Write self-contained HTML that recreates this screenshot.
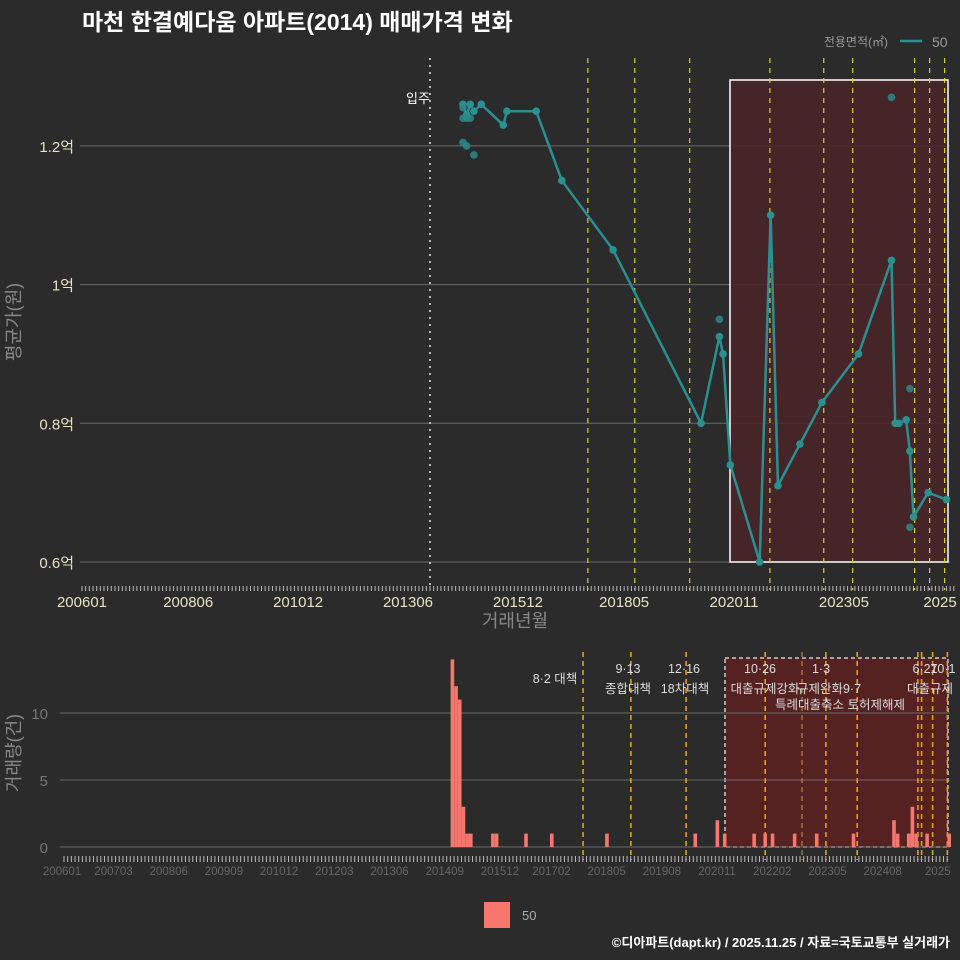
<!DOCTYPE html>
<html><head><meta charset="utf-8">
<style>
html,body{margin:0;padding:0;background:#2b2b2b;}
svg{display:block;font-family:"Liberation Sans","Noto Sans CJK KR",sans-serif;}
</style></head>
<body>
<svg id="c" width="960" height="960" viewBox="0 0 960 960">
<rect x="0" y="0" width="960" height="960" fill="#2b2b2b"/>
<text x="82" y="30" fill="#ffffff" font-size="23" font-weight="bold">마천 한결예다움 아파트(2014) 매매가격 변화</text>
<text x="888" y="46" fill="#9a9a9a" font-size="12" text-anchor="end">전용면적(㎡)</text>
<line x1="900" y1="41" x2="922" y2="41" stroke="#2a9090" stroke-width="2.5"/>
<text x="932" y="47" fill="#9a9a9a" font-size="14">50</text>
<text transform="translate(20,322) rotate(-90)" fill="#888" font-size="18" text-anchor="middle">평균가(원)</text>
<text x="515" y="627" fill="#888" font-size="18" text-anchor="middle">거래년월</text>
<text transform="translate(20,753) rotate(-90)" fill="#888" font-size="18" text-anchor="middle">거래량(건)</text>
<rect x="484" y="902" width="26" height="26" fill="#f8766d"/>
<text x="522" y="920" fill="#aaa" font-size="13">50</text>
<text x="950" y="947" fill="#ffffff" font-size="13" font-weight="bold" text-anchor="end">©디아파트(dapt.kr) / 2025.11.25 / 자료=국토교통부 실거래가</text>
<g id="g"></g>
</svg>
<script>
// ---- data (month index: 0 = 200601) ----
const lineMonths = [104,105,106,107,109,115,116,124,131,145,169,174,175,177,185,188,190,196,202,212,221,222,223,225,226,227,231,236];
const lineValues = [1.26,1.245,1.26,1.25,1.26,1.23,1.25,1.25,1.15,1.05,0.80,0.925,0.90,0.74,0.60,1.10,0.71,0.77,0.83,0.90,1.035,0.80,0.80,0.805,0.76,0.665,0.70,0.69];
const extraMonths = [104,104,105,105,107,221,226,226,174,104,106];
const extraValues = [1.205,1.24,1.20,1.24,1.187,1.27,0.85,0.65,0.95,1.255,1.24];
const barMonths = [105,106,107,108,109,110,116,117,125,132,147,171,177,179,187,190,192,198,204,214,225,226,229,230,231,234,240];
const barValues = [14,12,11,3,1,1,1,1,1,1,1,1,2,1,1,1,1,1,1,1,2,1,1,3,1,1,1];
const priceTicks = [0.6,0.8,1.0,1.2];
const priceTickLabels = ["0.6억","0.8억","1억","1.2억"];
const volTicks = [0,5,10];
const topXLabels = ["200601","200806","201012","201306","201512","201805","202011","202305","202511"];
const topXMonths = [0,29,59,89,119,148,178,208,238];
const botXLabels = ["200601","200703","200806","200909","201012","201203","201306","201409","201512","201702","201805","201908","202011","202202","202305","202408","202511"];
const botXMonths = [0,14,29,44,59,74,89,104,119,133,148,163,178,193,208,223,238];
const topVLines = [138.1,150.9,165.9,187.8,202.5,210.4,227.3,231.4,235.5];
const botVLines = [140.5,153.5,168.5,190,200,206.5,215,231.5,232.5,235.5,239.5];
const moveInMonth = 95;
const notes = [["8·2 대책",555,683],["9·13",628,673],["종합대책",628,693],["12·16",684,673],["18차대책",685,693],["10·26",760,673],["대출규제강화",765,693],["1·3",821,673],["규제완화",820,693],["9·7",852,693],["특례대출축소 토허제해제",840,709],["6·27",925,673],["10·1",943,673],["대출규제",930,693]];

const NS="http://www.w3.org/2000/svg";
const g=document.getElementById('g');
function el(t,a,p){const e=document.createElementNS(NS,t);for(const k in a)e.setAttribute(k,a[k]);(p||g).appendChild(e);return e;}
const X=m=>82+m*3.663;
const Y=v=>562-(v-0.6)/0.2*138.7;
const BX=m=>66+m*3.68;
const BY=v=>847-v*13.4;

priceTicks.forEach((v,i)=>{
 const l=el('line',{x1:80,x2:950,y1:Y(v),y2:Y(v),stroke:'#6a6a6a','stroke-width':1});
 
 
 const t=el('text',{x:74,y:Y(v)+6,fill:'#e8e2c4','font-size':15,'text-anchor':'end'});
 t.textContent=priceTickLabels[i];
 
 
});
const bx=el('rect',{x:730,y:80,width:218,height:482,fill:'#4a2428','fill-opacity':0.85,stroke:'#ffffff','stroke-width':1.5});


const mv=el('line',{x1:X(moveInMonth),x2:X(moveInMonth),y1:58,y2:590,stroke:'#bbbbbb','stroke-width':2,'stroke-dasharray':'2,5'});


const mt=el('text',{x:X(moveInMonth)-12,y:103,fill:'#ffffff','font-size':13,'text-anchor':'middle'});
mt.textContent='입주';


topVLines.forEach(m=>{
 const l=el('line',{x1:X(m),x2:X(m),y1:58,y2:590,stroke:'#d4d430','stroke-width':1.2,'stroke-dasharray':'5,5'});
 
 
});
for(let m=0;m<=238;m++){
 const l=el('line',{x1:X(m),x2:X(m),y1:586,y2:591,stroke:'#bbb','stroke-width':1});
 
 
}
topXLabels.forEach((s,i)=>{
 const t=el('text',{x:Math.min(X(topXMonths[i]),940),y:607,fill:'#e8e2c4','font-size':15,'text-anchor':'middle'});
 t.textContent=i==topXLabels.length-1?'2025':s;
 
 
});
const pts=lineMonths.map((m,i)=>X(m)+','+Y(lineValues[i])).join(' ');
const pl=el('polyline',{points:pts,fill:'none',stroke:'#2a9090','stroke-width':2.5});


lineMonths.forEach((m,i)=>{
 const c=el('circle',{cx:X(m),cy:Y(lineValues[i]),r:3.8,fill:'#2a9090'});
 
 
});
extraMonths.forEach((m,i)=>{
 const c=el('circle',{cx:X(m),cy:Y(extraValues[i]),r:3.8,fill:'#2a8a88','fill-opacity':0.85});
 
 
});

const bb=el('rect',{x:725,y:658,width:223,height:189,fill:'#5a2020','fill-opacity':0.9,stroke:'#cccccc','stroke-width':1.5,'stroke-dasharray':'4,3'});


volTicks.forEach(v=>{
 const l=el('line',{x1:60,x2:950,y1:BY(v),y2:BY(v),stroke:'#6a6a6a','stroke-width':1});
 
 
 const t=el('text',{x:48,y:BY(v)+6,fill:'#777','font-size':15,'text-anchor':'end'});
 t.textContent=v;
 
 
});
botVLines.forEach((m,i)=>{
 const l=el('line',{x1:BX(m),x2:BX(m),y1:652,y2:860,stroke:i==4?'#d0a020':'#e0a020','stroke-width':i==4?1:1.6,'stroke-dasharray':'5,4'});
 
 
});
barMonths.forEach((m,i)=>{
 const r=el('rect',{x:BX(m)-1.8,y:BY(barValues[i]),width:3.6,height:847-BY(barValues[i]),fill:'#f8766d'});
 
 
});
for(let m=0;m<=240;m++){
 const l=el('line',{x1:BX(m)-2,x2:BX(m)-2,y1:856,y2:862,stroke:'#bbb','stroke-width':1});
 
 
}
botXLabels.forEach((s,i)=>{
 const t=el('text',{x:Math.min(BX(botXMonths[i])-4,940),y:875,fill:'#666','font-size':11.5,'text-anchor':'middle'});
 t.textContent=i==botXLabels.length-1?'2025':s;
 
 
});
notes.forEach(n=>{
 const t=el('text',{x:n[1],y:n[2],fill:'#dddddd','font-size':12.5,'text-anchor':'middle'});
 t.textContent=n[0];
 
 
});
</script>
</body></html>
